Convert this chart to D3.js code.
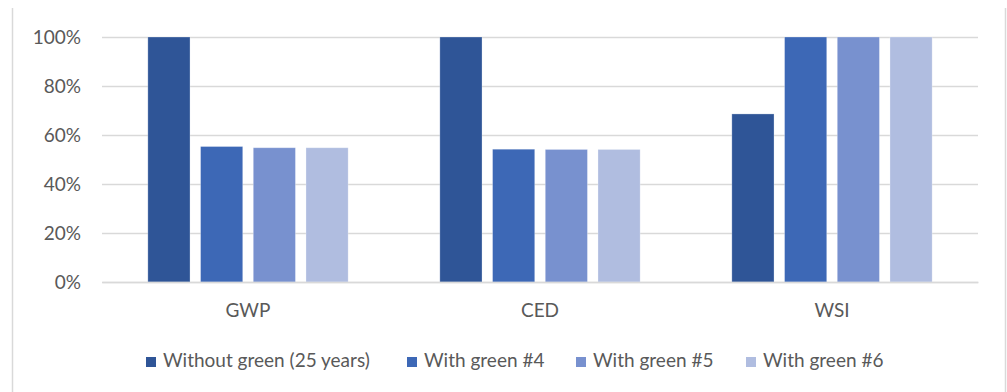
<!DOCTYPE html>
<html>
<head>
<meta charset="utf-8">
<script src="https://cdn.jsdelivr.net/npm/d3@7"></script>
<style>
  html, body { margin: 0; padding: 0; background: #fff; }
  svg { display: block; font-family: Lato, "Open Sans", sans-serif; }
</style>
</head>
<body>
<svg id="chart" width="1007" height="392"></svg>
<script>
// Impact indicators compared across scenarios (share of the reference scenario)
const categories = ["GWP", "CED", "WSI"];
const seriesNames = ["Without green (25 years)", "With green #4", "With green #5", "With green #6"];
const withoutGreen = [1.00, 1.00, 0.686];
const withGreen4 = [0.553, 0.542, 1.00];
const withGreen5 = [0.548, 0.541, 1.00];
const withGreen6 = [0.548, 0.541, 1.00];
const tickValues = [0, 0.2, 0.4, 0.6, 0.8, 1.0];
const colors = ["#2F5597", "#3D68B6", "#7891CF", "#B0BDE0"];

const seriesValues = [withoutGreen, withGreen4, withGreen5, withGreen6];
const table = categories.map((c, i) => ({
  category: c,
  values: seriesNames.map((s, j) => ({ series: s, idx: j, value: seriesValues[j][i] }))
}));

const svg = d3.select("#chart");
const W = 1007, H = 392;
const plot = { left: 102, right: 978, top: 37, bottom: 282 };
const fontSize = "19px";

// chart frame (side edges)
svg.append("line").attr("x1", 12.5).attr("x2", 12.5).attr("y1", 8).attr("y2", H)
  .attr("stroke", "#d9d9d9").attr("stroke-width", 1.5);
svg.append("line").attr("x1", 1005.5).attr("x2", 1005.5).attr("y1", 8).attr("y2", H)
  .attr("stroke", "#d9d9d9").attr("stroke-width", 1.5);

const x0 = d3.scaleBand().domain(categories).range([plot.left, plot.right]).padding(0);
const x1 = d3.scaleBand().domain(seriesNames).range([0, x0.bandwidth()])
  .paddingInner(0.2).paddingOuter(0.87);
const y = d3.scaleLinear().domain([0, 1]).range([plot.bottom, plot.top]);

// gridlines + y labels
const yAxis = d3.axisLeft(y).tickValues(tickValues)
  .tickSize(-(plot.right - plot.left)).tickPadding(21)
  .tickFormat(d3.format(".0%"));
const gy = svg.append("g").attr("transform", `translate(${plot.left},0)`).call(yAxis);
gy.select(".domain").remove();
gy.selectAll(".tick line").attr("stroke", "#d9d9d9").attr("stroke-width", 1.3);
gy.selectAll(".tick text").attr("fill", "#595959").style("font-size", fontSize)
  .style("font-family", "Lato, sans-serif");

// bars
const groups = svg.append("g").selectAll("g").data(table).join("g")
  .attr("transform", d => `translate(${x0(d.category)},0)`);
groups.selectAll("rect").data(d => d.values).join("rect")
  .attr("x", d => x1(d.series))
  .attr("width", x1.bandwidth())
  .attr("y", d => y(d.value))
  .attr("height", d => y(0) - y(d.value))
  .attr("fill", d => colors[d.idx])
  .attr("stroke", "rgba(255,255,255,0.35)")
  .attr("stroke-width", 0.8);

// category axis
const xAxis = d3.axisBottom(x0).tickSize(0).tickPadding(22);
const gx = svg.append("g").attr("transform", `translate(0,${plot.bottom})`).call(xAxis);
gx.select(".domain").attr("stroke", "#d9d9d9").attr("stroke-width", 1.3);
gx.selectAll(".tick text").attr("fill", "#595959").style("font-size", fontSize)
  .style("font-family", "Lato, sans-serif");

// legend
const legendX = [146, 407, 576, 746];
const legend = svg.append("g").selectAll("g").data(seriesNames).join("g")
  .attr("transform", (d, i) => `translate(${legendX[i]},357)`);
legend.append("rect").attr("width", 10).attr("height", 10)
  .attr("fill", (d, i) => colors[i]);
legend.append("text").attr("x", 17).attr("y", 10)
  .attr("fill", "#595959").style("font-size", fontSize)
  .text(d => d);
</script>
</body>
</html>
